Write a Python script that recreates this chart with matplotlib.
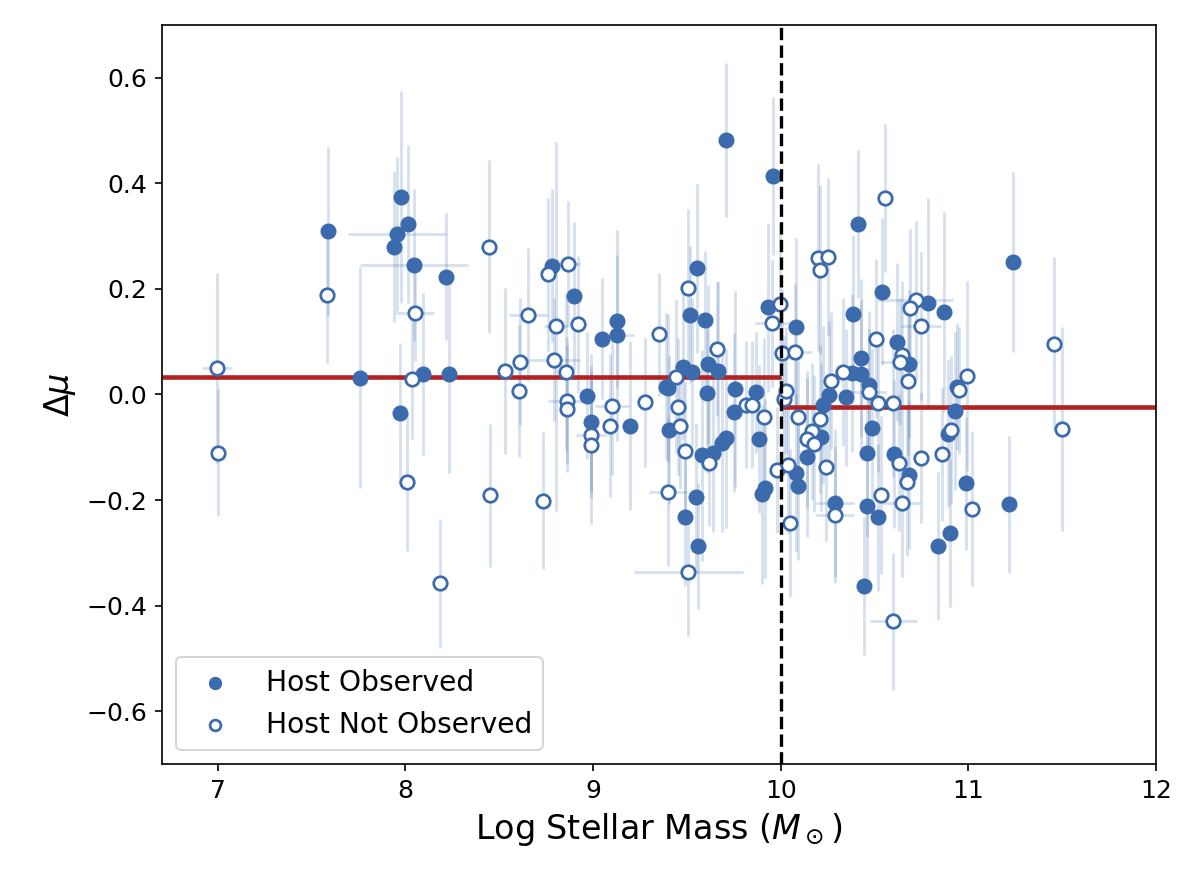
import matplotlib
matplotlib.use("Agg")
import matplotlib.pyplot as plt
import numpy as np

# Host Observed (filled): mass, delta_mu, yerr, xerr
obs_x = [7.585, 7.757, 7.94, 7.956, 7.979, 7.97, 8.014, 8.046, 8.091, 8.214, 8.23,
         8.779, 8.898, 8.97, 8.99, 9.049, 9.13, 9.13, 9.196,
         9.708, 9.96, 9.555, 9.516, 9.596, 9.934, 9.48, 9.525, 9.613, 9.667, 9.388, 9.40,
         9.605, 9.756, 9.87, 9.406, 9.75, 9.578, 9.637, 9.688, 9.708, 9.885, 9.55, 9.898,
         9.916, 9.49, 9.56,
         10.41, 10.54, 10.08, 10.385, 10.62, 10.43, 10.685, 10.378, 10.43, 10.47, 10.26,
         10.35, 10.225, 10.485, 10.215, 10.14, 10.46, 10.605, 10.08, 10.09, 10.685, 10.29,
         10.46, 10.52, 10.445, 11.236, 10.786, 10.872, 10.937, 10.93, 10.89, 10.99, 11.215,
         10.90, 10.836]
obs_y = [0.309, 0.032, 0.28, 0.304, 0.374, -0.036, 0.323, 0.245, 0.039, 0.223, 0.039,
         0.244, 0.187, -0.002, -0.053, 0.106, 0.14, 0.112, -0.059,
         0.482, 0.414, 0.239, 0.151, 0.141, 0.165, 0.053, 0.042, 0.057, 0.045, 0.015, 0.012,
         0.002, 0.01, 0.004, -0.067, -0.034, -0.115, -0.110, -0.091, -0.083, -0.085, -0.194, -0.189,
         -0.178, -0.233, -0.287,
         0.323, 0.195, 0.127, 0.153, 0.1, 0.069, 0.058, 0.041, 0.039, 0.018, -0.001,
         -0.005, -0.02, -0.063, -0.081, -0.119, -0.110, -0.113, -0.149, -0.173, -0.153, -0.205,
         -0.211, -0.233, -0.363, 0.251, 0.173, 0.156, 0.015, -0.031, -0.074, -0.168, -0.208,
         -0.263, -0.287]
obs_yerr = [0.16, 0.21, 0.143, 0.145, 0.2, 0.133, 0.15, 0.144, 0.154, 0.12, 0.187,
            0.145, 0.14, 0.12, 0.13, 0.114, 0.125, 0.2, 0.16,
            0.145, 0.15, 0.16, 0.13, 0.13, 0.16, 0.14, 0.14, 0.15, 0.17, 0.14, 0.14,
            0.15, 0.186, 0.115, 0.14, 0.15, 0.2, 0.15, 0.17, 0.17, 0.14, 0.14, 0.17,
            0.17, 0.13, 0.12,
            0.14, 0.14, 0.17, 0.15, 0.15, 0.15, 0.14, 0.15, 0.14, 0.14, 0.14,
            0.13, 0.15, 0.15, 0.14, 0.15, 0.16, 0.14, 0.15, 0.14, 0.14, 0.14,
            0.15, 0.14, 0.13, 0.17, 0.2, 0.19, 0.12, 0.15, 0.14, 0.126, 0.13,
            0.14, 0.14]
obs_xerr = [0, 0, 0, 0.26, 0, 0, 0, 0.29, 0, 0, 0,
            0, 0, 0, 0, 0, 0, 0.09, 0,
            0, 0, 0, 0, 0, 0, 0, 0, 0, 0, 0, 0,
            0, 0, 0, 0, 0, 0, 0, 0, 0, 0, 0, 0,
            0, 0, 0,
            0, 0, 0, 0, 0, 0, 0, 0, 0, 0, 0,
            0, 0, 0, 0, 0, 0, 0, 0, 0, 0, 0.1,
            0, 0, 0, 0, 0, 0, 0, 0, 0, 0, 0,
            0, 0]

# Host Not Observed (open)
nob_x = [6.996, 7.0, 7.583, 8.052, 8.034, 8.009, 8.183,
         8.443, 8.45, 8.734, 8.533, 8.61, 8.606, 8.654, 8.76, 8.868, 8.80, 8.92, 8.793,
         8.855, 8.862, 8.862, 8.99, 8.99, 9.09, 9.10,
         9.507, 9.352, 9.658, 9.996, 9.955, 10.008, 9.44, 9.276, 9.454, 9.815, 9.845, 9.912,
         10.017, 9.463, 9.49, 9.62, 9.978, 9.40, 9.507,
         10.555, 10.20, 10.25, 10.21, 10.72, 10.69, 10.75, 10.51, 10.075, 10.645, 10.635,
         10.33, 10.27, 10.47, 10.68, 10.03, 10.52, 10.60, 10.09, 10.21, 10.165, 10.14,
         10.18, 10.633, 10.24, 10.04, 10.675, 10.534, 10.29, 10.645, 10.05, 10.60,
         11.456, 11.50, 10.994, 10.95, 10.91, 10.86, 10.75, 11.02]
nob_y = [0.05, -0.11, 0.189, 0.154, 0.03, -0.166, -0.358,
         0.28, -0.191, -0.201, 0.045, 0.062, 0.006, 0.151, 0.228, 0.247, 0.129, 0.133, 0.066,
         0.043, -0.012, -0.027, -0.077, -0.096, -0.059, -0.022,
         0.201, 0.114, 0.086, 0.171, 0.135, 0.079, 0.034, -0.015, -0.023, -0.019, -0.019, -0.043,
         -0.009, -0.059, -0.107, -0.129, -0.143, -0.184, -0.337,
         0.372, 0.259, 0.26, 0.236, 0.179, 0.164, 0.13, 0.106, 0.08, 0.075, 0.062,
         0.043, 0.026, 0.005, 0.026, 0.007, -0.016, -0.016, -0.043, -0.046, -0.07, -0.085,
         -0.093, -0.129, -0.138, -0.134, -0.165, -0.19, -0.228, -0.206, -0.244, -0.43,
         0.096, -0.066, 0.035, 0.008, -0.067, -0.113, -0.12, -0.216]
nob_yerr = [0.18, 0.12, 0.13, 0.09, 0.114, 0.13, 0.12,
            0.164, 0.136, 0.13, 0.157, 0.12, 0.125, 0.126, 0.145, 0.12, 0.35, 0.13, 0.117,
            0.15, 0.12, 0.12, 0.12, 0.15, 0.136, 0.13,
            0.15, 0.117, 0.127, 0.15, 0.12, 0.12, 0.145, 0.122, 0.13, 0.12, 0.12, 0.15,
            0.12, 0.12, 0.13, 0.12, 0.12, 0.14, 0.12,
            0.14, 0.177, 0.15, 0.16, 0.15, 0.15, 0.14, 0.15, 0.13, 0.14, 0.12,
            0.14, 0.13, 0.12, 0.14, 0.12, 0.13, 0.14, 0.13, 0.14, 0.13, 0.13,
            0.13, 0.13, 0.14, 0.13, 0.14, 0.15, 0.13, 0.14, 0.14, 0.13,
            0.164, 0.193, 0.18, 0.12, 0.14, 0.126, 0.123, 0.147]
nob_xerr = [0.08, 0, 0, 0.1, 0, 0, 0,
            0, 0, 0, 0, 0, 0, 0.1, 0, 0.06, 0.06, 0, 0.14,
            0, 0.1, 0, 0.08, 0, 0, 0.09,
            0, 0, 0, 0, 0.09, 0, 0, 0, 0, 0, 0, 0,
            0, 0, 0, 0, 0, 0.1, 0.29,
            0, 0, 0, 0, 0.2, 0, 0.107, 0, 0.09, 0, 0.1,
            0, 0, 0.09, 0, 0, 0, 0, 0, 0, 0, 0,
            0, 0, 0, 0, 0, 0, 0.1, 0.1, 0, 0.125,
            0, 0, 0, 0, 0, 0, 0, 0]

split_mass = 10.0
step_low = 0.034
step_high = -0.024

blue = '#3b6aad'
red = '#b22222'

fig = plt.figure(figsize=(8, 5.94), dpi=150)
ax = fig.add_axes([0.1346, 0.1425, 0.8287, 0.8295])

all_x = obs_x + nob_x
all_y = obs_y + nob_y
all_xe = obs_xerr + nob_xerr
all_ye = obs_yerr + nob_yerr
ax.errorbar(all_x, all_y, xerr=all_xe, yerr=all_ye, fmt='none', ecolor=blue,
            alpha=0.2, elinewidth=1.4, capsize=0, zorder=1)

ax.hlines(step_low, 6.7, split_mass, color=red, lw=2.2, zorder=2)
ax.hlines(step_high, split_mass, 12, color=red, lw=2.2, zorder=2)

ax.scatter(obs_x, obs_y, s=42, color=blue, edgecolor=blue, linewidth=1.2,
           zorder=3, label='Host Observed')
ax.scatter(nob_x, nob_y, s=42, facecolor='white', edgecolor=blue, linewidth=1.3,
           zorder=3, label='Host Not Observed')

ax.axvline(split_mass, color='black', ls='--', lw=1.6, zorder=4)

ax.set_xlim(6.7, 12)
ax.set_ylim(-0.7, 0.7)
ax.set_xticks([7, 8, 9, 10, 11, 12])
ax.set_yticks([-0.6, -0.4, -0.2, 0.0, 0.2, 0.4, 0.6])
ax.tick_params(labelsize=12)
ax.set_xlabel(r'Log Stellar Mass ($M_\odot$)', fontsize=16)
ax.set_ylabel(r'$\Delta\mu$', fontsize=16)
ax.legend(loc='lower left', fontsize=13.5, markerscale=0.8)

fig.savefig('out.png', dpi=150)
